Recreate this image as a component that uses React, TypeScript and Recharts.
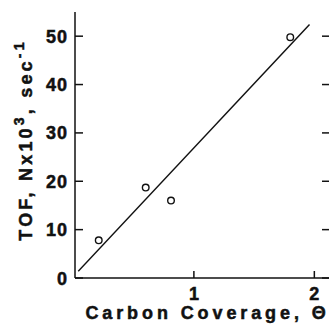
import { ComposedChart, Scatter, Line, XAxis, YAxis, Label } from "recharts";

// measured points (carbon coverage vs turnover frequency)
const coverage = [0.21, 0.6, 0.81, 1.8];
const tof = [7.8, 18.7, 16.0, 49.8];

// fit line, end points
const fitCoverage = [0.04, 1.96];
const fitTof = [1.4, 52.4];

const yTicks = [0, 10, 20, 30, 40, 50];
const xTicks = [1, 2];

const points = coverage.map((x, i) => ({ x, y: tof[i] }));
const fit = fitCoverage.map((x, i) => ({ x, y: fitTof[i] }));

const font = "'Liberation Sans', Arial, Helvetica, sans-serif";
const ink = "#111";

const CHART_W = 330;
const RIGHT_GAP = 8;
const Y_AXIS_W = 67;
// right frame edge sits just past the page edge, like the scan
const PLOT_RIGHT = CHART_W - RIGHT_GAP;

// the figure runs to the very edge of the page, so drop the body margin
if (typeof document !== "undefined") document.body.style.margin = "0";

const YTick = ({ x, y, payload }: any) => (
  <g>
    <line x1={x} x2={x + 8} y1={y} y2={y} stroke={ink} strokeWidth={1.5} />
    <line
      x1={PLOT_RIGHT}
      x2={PLOT_RIGHT - 8}
      y1={y}
      y2={y}
      stroke={ink}
      strokeWidth={1.5}
    />
    <text
      x={x - 7}
      y={y}
      dy={6.5}
      textAnchor="end"
      fontFamily={font}
      fontWeight="bold"
      fontSize={18}
      letterSpacing={1}
      fill={ink}
      stroke={ink}
      strokeWidth={0.5}
    >
      {payload.value}
    </text>
  </g>
);

const XTick = ({ x, y, payload }: any) => (
  <g>
    <line x1={x} x2={x} y1={y} y2={y - 7} stroke={ink} strokeWidth={1.5} />
    <text
      x={x}
      y={y}
      dy={22}
      textAnchor="middle"
      fontFamily={font}
      fontWeight="bold"
      fontSize={18}
      fill={ink}
      stroke={ink}
      strokeWidth={0.5}
    >
      {payload.value}
    </text>
  </g>
);

const Ring = ({ cx, cy }: any) => (
  <circle cx={cx} cy={cy} r={3.3} fill="none" stroke={ink} strokeWidth={1.4} />
);

const YTitle = ({ viewBox }: any) => {
  const cx = viewBox.x + 18;
  const cy = viewBox.y + viewBox.height / 2 - 5;
  return (
    <text
      x={cx}
      y={cy}
      transform={`rotate(-90, ${cx}, ${cy})`}
      textAnchor="middle"
      dominantBaseline="central"
      fontFamily={font}
      fontWeight="bold"
      fontSize={18}
      letterSpacing={3.2}
      fill={ink}
      stroke={ink}
      strokeWidth={0.5}
    >
      TOF, Nx10
      <tspan dy={-7} fontSize={14}>3</tspan>
      <tspan dy={7}>, sec</tspan>
      <tspan dy={-7} fontSize={14}>-1</tspan>
    </text>
  );
};

const XTitle = ({ viewBox }: any) => (
  <text
    x={viewBox.x + viewBox.width / 2 + 5}
    y={viewBox.y + 41}
    textAnchor="middle"
    fontFamily={font}
    fontWeight="bold"
    fontSize={18}
    letterSpacing={3.9}
    fill={ink}
    stroke={ink}
    strokeWidth={0.5}
  >
    Carbon Coverage, Θ
  </text>
);

export default function App() {
  return (
    <div
      style={{
        width: 329,
        height: 325,
        paddingLeft: 8,
        paddingTop: 8,
        boxSizing: "border-box",
        overflow: "hidden",
        background: "#fff",
      }}
    >
      <ComposedChart
        width={CHART_W}
        height={317}
        margin={{ top: 4, right: RIGHT_GAP, left: 0, bottom: 0 }}
      >
        <XAxis
          xAxisId="b"
          type="number"
          dataKey="x"
          domain={[0.013, 2.13]}
          ticks={xTicks}
          allowDataOverflow
          height={47}
          tickSize={0}
          tickMargin={0}
          tickLine={false}
          tick={<XTick />}
          axisLine={{ stroke: ink, strokeWidth: 1.5 }}
        >
          <Label content={<XTitle />} />
        </XAxis>
        <XAxis
          xAxisId="t"
          orientation="top"
          type="number"
          dataKey="x"
          domain={[0.013, 2.13]}
          height={0}
          tick={false}
          tickLine={false}
          axisLine={{ stroke: ink, strokeWidth: 1.5 }}
        />
        <YAxis
          yAxisId="l"
          type="number"
          domain={[0, 55]}
          ticks={yTicks}
          allowDataOverflow
          width={Y_AXIS_W}
          tickSize={0}
          tickMargin={0}
          tickLine={false}
          tick={<YTick />}
          axisLine={{ stroke: ink, strokeWidth: 1.5 }}
        >
          <Label content={<YTitle />} />
        </YAxis>
        <Line
          xAxisId="b"
          yAxisId="l"
          data={fit}
          dataKey="y"
          type="linear"
          stroke={ink}
          strokeWidth={1.4}
          dot={false}
          activeDot={false}
          isAnimationActive={false}
        />
        <Scatter
          xAxisId="b"
          yAxisId="l"
          data={points}
          dataKey="y"
          shape={<Ring />}
          isAnimationActive={false}
        />
      </ComposedChart>
    </div>
  );
}
